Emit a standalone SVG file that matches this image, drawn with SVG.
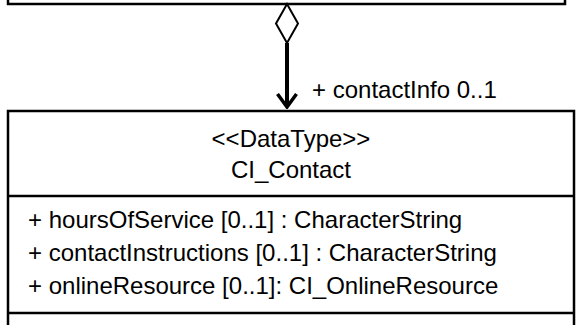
<svg xmlns="http://www.w3.org/2000/svg" width="577" height="325" viewBox="0 0 577 325">
  <style>
    .box { fill: #ffffff; stroke: #000000; stroke-width: 2.5; }
    .sep { stroke: #000000; stroke-width: 2.5; }
    .txt { font-family: "Liberation Sans", Arial, sans-serif; font-size: 24px; fill: #000000; }
    .mid { text-anchor: middle; }
  </style>
  <defs>
    <!-- open arrowhead at the navigable end -->
    <marker id="openArrow" viewBox="0 0 16 22" refX="14" refY="11" markerWidth="16" markerHeight="22" markerUnits="userSpaceOnUse" orient="auto">
      <path d="M1 1.5 L14 11 L1 20.5" fill="none" stroke="#000000" stroke-width="3.5"/>
    </marker>
  </defs>

  <!-- owning class (only its lower edge is in view) -->
  <g id="owner">
    <rect class="box" x="8" y="-40" width="557" height="44"/>
  </g>

  <!-- aggregation from owner to CI_Contact -->
  <g id="connectors">
    <path d="M287 4 L298 23.5 L287 43 L276 23.5 Z" fill="#ffffff" stroke="#000000" stroke-width="2"/>
    <line x1="287" y1="43" x2="287" y2="107" stroke="#000000" stroke-width="4" marker-end="url(#openArrow)"/>
    <text class="txt" x="312" y="98">+ contactInfo 0..1</text>
  </g>

  <!-- CI_Contact data type -->
  <g id="ci-contact">
    <rect class="box" x="8" y="111" width="566" height="230"/>
    <line class="sep" x1="8" y1="196" x2="574" y2="196"/>
    <line class="sep" x1="8" y1="313" x2="574" y2="313"/>
    <text class="txt mid" x="291" y="147">&lt;&lt;DataType&gt;&gt;</text>
    <text class="txt mid" x="291" y="178">CI_Contact</text>
    <text class="txt" x="28" y="228">+ hoursOfService [0..1] : CharacterString</text>
    <text class="txt" x="28" y="261">+ contactInstructions [0..1] : CharacterString</text>
    <text class="txt" x="28" y="294">+ onlineResource [0..1]: CI_OnlineResource</text>
  </g>
</svg>
